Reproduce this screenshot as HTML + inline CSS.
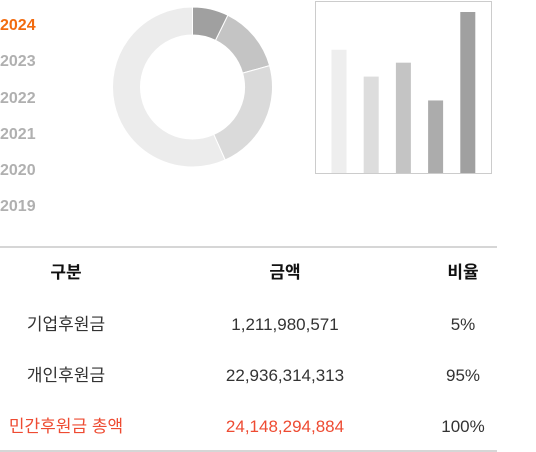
<!DOCTYPE html>
<html><head><meta charset="utf-8">
<style>
body{margin:0;width:536px;height:452px;background:#fff;font-family:"Liberation Sans","Noto Sans CJK KR",sans-serif;position:relative;overflow:hidden}
.yr{position:absolute;left:0;font-size:16px;font-weight:bold;color:#b0b0b0;line-height:20px;cursor:pointer}
.yr.on{color:#f26b0f}
.c{position:absolute;font-size:17px;color:#333;line-height:20px;transform:translateX(-50%);white-space:nowrap}
.h{font-weight:bold;color:#111}
.r{color:#ee4b32}
.line{position:absolute;left:0;width:497px;height:2px;background:#d6d6d6}
</style></head><body>
<div class="yr on" style="top:16px">2024</div>
<div class="yr" style="top:52px">2023</div>
<div class="yr" style="top:89px">2022</div>
<div class="yr" style="top:125px">2021</div>
<div class="yr" style="top:161px">2020</div>
<div class="yr" style="top:197px">2019</div>
<svg id="donut" width="536" height="180" style="position:absolute;left:0;top:0"></svg>
<div class="line" style="top:246px"></div>
<div class="c h" style="left:66px;top:263px">구분</div>
<div class="c h" style="left:285px;top:263px">금액</div>
<div class="c h" style="left:463px;top:263px">비율</div>
<div class="c" style="left:66px;top:315px">기업후원금</div>
<div class="c" style="left:285px;top:315px">1,211,980,571</div>
<div class="c" style="left:463px;top:315px">5%</div>
<div class="c" style="left:66px;top:366px">개인후원금</div>
<div class="c" style="left:285px;top:366px">22,936,314,313</div>
<div class="c" style="left:463px;top:366px">95%</div>
<div class="c r" style="left:66px;top:417px">민간후원금 총액</div>
<div class="c r" style="left:285px;top:417px">24,148,294,884</div>
<div class="c" style="left:463px;top:417px">100%</div>
<div class="line" style="top:450px"></div>
<script>
const sliceValues=[7.3,13.4,22.6,56.7];
const sliceColors=["#a0a0a0","#c4c4c4","#dadada","#ececec"];
const barValues=[124,97,111,73,162];
const barColors=["#eeeeee","#dddddd","#c4c4c4","#acacac","#a0a0a0"];
const NS="http://www.w3.org/2000/svg";
const svg=document.getElementById('donut');
const cx=192.5,cy=87,R=80,r=52;
const tot=sliceValues.reduce((a,b)=>a+b,0);
let acc=0;
function pt(a,rad){return [cx+rad*Math.sin(a),cy-rad*Math.cos(a)];}
sliceValues.forEach((v,i)=>{
  const a0=acc/tot*2*Math.PI;acc+=v;const a1=acc/tot*2*Math.PI;
  const lg=(a1-a0)>Math.PI?1:0;
  const [x0,y0]=pt(a0,R),[x1,y1]=pt(a1,R),[x2,y2]=pt(a1,r),[x3,y3]=pt(a0,r);
  const p=document.createElementNS(NS,'path');
  p.setAttribute('d',`M${x0},${y0}A${R},${R} 0 ${lg} 1 ${x1},${y1}L${x2},${y2}A${r},${r} 0 ${lg} 0 ${x3},${y3}Z`);
  p.setAttribute('fill',sliceColors[i]);p.setAttribute('stroke','#fff');p.setAttribute('stroke-width','1');
  
  
  svg.appendChild(p);
});
const box=document.createElementNS(NS,'rect');
box.setAttribute('x',315.5);box.setAttribute('y',1.5);box.setAttribute('width',176);box.setAttribute('height',172);
box.setAttribute('fill','#fff');box.setAttribute('stroke','#cccccc');


svg.appendChild(box);
const base=173,maxV=162,maxH=161;
function yScale(v){return v/maxV*maxH;}
barValues.forEach((v,i)=>{
  const b=document.createElementNS(NS,'rect');
  const h=yScale(v);
  b.setAttribute('x',331.5+i*32.2);b.setAttribute('y',base-h);b.setAttribute('width',15);b.setAttribute('height',h);
  b.setAttribute('fill',barColors[i]);
  
  
  svg.appendChild(b);
});
</script>
</body></html>
